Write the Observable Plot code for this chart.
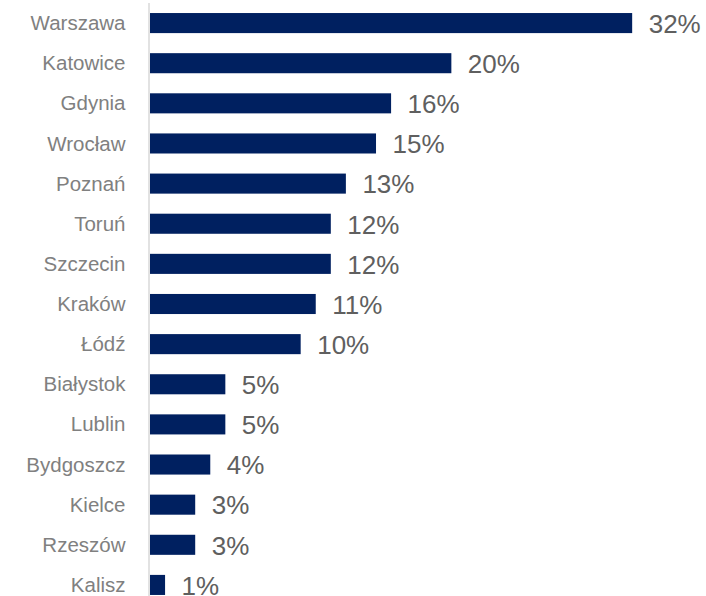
<!DOCTYPE html>
<html>
<head>
<meta charset="utf-8">
<script src="https://cdn.jsdelivr.net/npm/d3@7"></script>
<script src="https://cdn.jsdelivr.net/npm/@observablehq/plot@0.6"></script>
<style>
  html, body { margin: 0; padding: 0; background: #fff; overflow: hidden; }
  #chart svg { display: block; }
</style>
</head>
<body>
<div id="chart"></div>
<script>
const cities = ["Warszawa", "Katowice", "Gdynia", "Wrocław", "Poznań", "Toruń", "Szczecin", "Kraków", "Łódź", "Białystok", "Lublin", "Bydgoszcz", "Kielce", "Rzeszów", "Kalisz"];
const shares = [32, 20, 16, 15, 13, 12, 12, 11, 10, 5, 5, 4, 3, 3, 1];

const data = cities.map((city, i) => ({city, share: shares[i]}));

const chart = Plot.plot({
  width: 706,
  height: 605,
  marginLeft: 150,
  marginRight: 0,
  marginTop: 3,
  marginBottom: 0,
  style: {fontFamily: "Liberation Sans, Arial, sans-serif", background: "#fff"},
  x: {domain: [0, 36.9], axis: null},
  y: {domain: cities, paddingInner: 0.5, paddingOuter: 0.25, round: false, label: null, axis: null},
  marks: [
    Plot.axisY({tickSize: 0, tickPadding: 25, fontSize: 20.5, fill: "#808080", label: null}),
    Plot.barX(data, {x: "share", y: "city", fill: "#002060"}),
    Plot.ruleX([0], {stroke: "#d9d9d9", strokeWidth: 1.5, dx: -1.5}),
    Plot.text(data, {x: "share", y: "city", text: d => d.share + "%", textAnchor: "start", dx: 16, dy: 1, fontSize: 26, fill: "#5f5f5f"})
  ]
});
document.getElementById("chart").appendChild(chart);
</script>
</body>
</html>
